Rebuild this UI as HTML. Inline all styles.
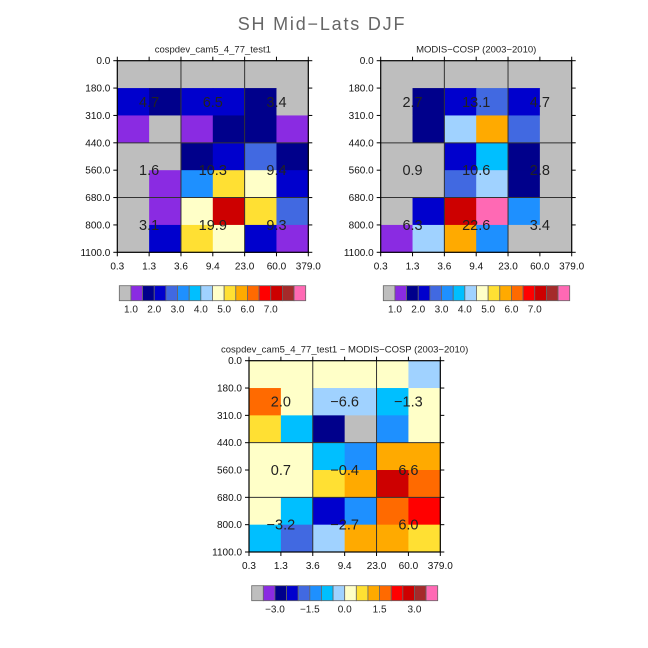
<!DOCTYPE html>
<html><head><meta charset="utf-8"><style>
html,body{margin:0;padding:0;background:#fff;width:648px;height:648px;overflow:hidden}
svg text{font-family:"Liberation Sans",sans-serif}
</style></head><body>
<svg id="c" width="648" height="648" viewBox="0 0 648 648">
<text x="322" y="30" text-anchor="middle" font-size="18" fill="#666" letter-spacing="1.8">SH Mid−Lats DJF</text>
</svg>
<script>
const palette = ["#bebebe","#8a2be2","#00008b","#0000cd","#4169e1","#1e90ff","#00bfff","#a0d2ff","#ffffc8","#ffe033","#ffaa00","#ff6a00","#ff0000","#cd0000","#a52a2a","#ff69b4"];
const xTicks = ["0.3","1.3","3.6","9.4","23.0","60.0","379.0"];
const yTicks = ["0.0","180.0","310.0","440.0","560.0","680.0","800.0","1100.0"];
const grid1 = [
 [0,0,0,0,0,0],[3,2,3,3,2,0],[1,0,1,2,2,1],[0,0,2,3,4,2],[0,1,5,9,8,3],[0,1,8,13,9,4],[0,3,9,8,3,1]];
const grid2 = [
 [0,0,0,0,0,0],[0,2,3,4,3,0],[0,2,7,10,4,0],[0,0,3,6,2,0],[0,0,4,7,2,0],[0,3,13,15,5,0],[1,7,10,5,0,0]];
const grid3 = [
 [8,8,8,8,8,7],[11,8,7,7,6,8],[9,6,2,0,5,8],[8,8,6,5,10,10],[8,8,9,10,13,11],[8,6,3,5,11,12],[6,4,7,10,10,9]];
const values1 = ["4.7","6.5","3.4","1.6","10.3","9.4","3.1","19.9","9.3"];
const values2 = ["2.7","13.1","4.7","0.9","10.6","2.8","6.3","22.6","3.4"];
const values3 = ["2.0","−6.6","−1.3","0.7","−0.4","6.6","−3.2","−2.7","6.0"];
const cbLabels1 = ["1.0","2.0","3.0","4.0","5.0","6.0","7.0"];
const cbLabels3 = ["−3.0","−1.5","0.0","1.5","3.0"];

const svg = document.getElementById('c');
const NS = "http://www.w3.org/2000/svg";
function mk(tag, attrs, parent){const e=document.createElementNS(NS,tag);for(const k in attrs)e.setAttribute(k,attrs[k]);(parent||svg).appendChild(e);return e;}

function panel(key, x0, y0, W, H, title, grid, vals, cbX, cbY, cbW, cbLabels, cbStep){
  const g = mk('g',{});
  
  
  const nc = grid[0].length, nr = grid.length;
  const cw = W/nc, ch = H/nr;
  const xs = i => x0 + i*cw, ys = j => y0 + j*ch;
  const t = mk('text',{x:x0+W/2,y:y0-8,'text-anchor':'middle','font-size':9.5,fill:'#222'},g);
  t.textContent = title;
  
  
  grid.forEach((row,j)=>row.forEach((ci,i)=>{
    const r = mk('rect',{x:xs(i),y:ys(j),width:cw+0.5,height:ch+0.5,fill:palette[ci]},g);
    
    
  }));
  [2,4].forEach(i=>mk('line',{x1:xs(i),x2:xs(i),y1:y0,y2:y0+H,stroke:'#333','stroke-width':1},g));
  [3,5].forEach(j=>mk('line',{x1:x0,x2:x0+W,y1:ys(j),y2:ys(j),stroke:'#333','stroke-width':1},g));
  mk('rect',{x:x0,y:y0,width:W,height:H,fill:'none',stroke:'#000','stroke-width':1.2},g);
  for(let i=0;i<=nc;i++){
    mk('line',{x1:xs(i),x2:xs(i),y1:y0+H,y2:y0+H+4,stroke:'#000'},g);
    mk('line',{x1:xs(i),x2:xs(i),y1:y0,y2:y0-4,stroke:'#000'},g);
    const lt = mk('text',{x:xs(i),y:y0+H+17,'text-anchor':'middle','font-size':10,fill:'#111'},g);
    lt.textContent = xTicks[i];
    
    
  }
  for(let j=0;j<=nr;j++){
    mk('line',{x1:x0,x2:x0-4,y1:ys(j),y2:ys(j),stroke:'#000'},g);
    mk('line',{x1:x0+W,x2:x0+W+4,y1:ys(j),y2:ys(j),stroke:'#000'},g);
    const lt = mk('text',{x:x0-7,y:ys(j)+3.5,'text-anchor':'end','font-size':10,fill:'#111'},g);
    lt.textContent = yTicks[j];
    
    
  }
  const vy = [ys(1.5), ys(4), ys(6)];
  vals.forEach((v,k)=>{
    const c = k%3, r = Math.floor(k/3);
    const vt = mk('text',{x:xs(1+2*c),y:vy[r]+5,'text-anchor':'middle','font-size':14.5,fill:'#222'},g);
    vt.textContent = v;
    
    
  });
  const bw = cbW/palette.length, bh = 15;
  palette.forEach((col,k)=>{
    const b = mk('rect',{x:cbX+k*bw,y:cbY,width:bw,height:bh,fill:col,stroke:'#666','stroke-width':0.8},g);
    
    
  });
  cbLabels.forEach((l,k)=>{
    const bi = cbStep[0] + k*cbStep[1];
    const ct = mk('text',{x:cbX+bi*bw,y:cbY+bh+12,'text-anchor':'middle','font-size':10,fill:'#222'},g);
    ct.textContent = l;
    
    
  });
}
panel('model', 117.3, 60.7, 191, 191.6, 'cospdev_cam5_4_77_test1', grid1, values1, 119.3, 285.7, 186.4, cbLabels1, [1,2]);
panel('obs', 380.7, 60.7, 191, 191.6, 'MODIS−COSP (2003−2010)', grid2, values2, 383.3, 285.7, 186.4, cbLabels1, [1,2]);
panel('diff', 249, 360.7, 191.3, 191.3, 'cospdev_cam5_4_77_test1 − MODIS−COSP (2003−2010)', grid3, values3, 251.7, 585.7, 186, cbLabels3, [2,3]);
</script>
</body></html>
